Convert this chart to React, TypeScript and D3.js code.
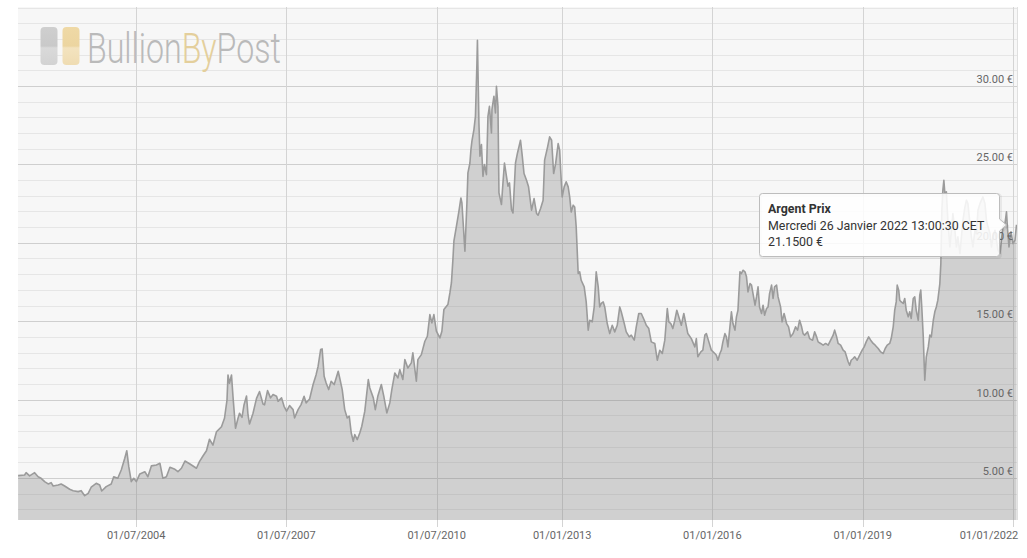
import React from "react";
import * as d3 from "d3";

// Silver price (EUR / oz). Dates as decimal years.
const sampleYears = [
  2002.14, 2002.27, 2002.30, 2002.37, 2002.47, 2002.54, 2002.60, 2002.67, 2002.74, 2002.80, 2002.84, 2002.94,
  2003.00, 2003.07, 2003.17, 2003.24, 2003.34, 2003.40, 2003.47, 2003.54, 2003.60, 2003.70, 2003.77, 2003.81, 2003.90,
  2004.00, 2004.05, 2004.13, 2004.20, 2004.27, 2004.31, 2004.35, 2004.40, 2004.45, 2004.50, 2004.57, 2004.67, 2004.73, 2004.80, 2004.90, 2004.97,
  2005.03, 2005.10, 2005.17, 2005.27, 2005.33, 2005.40, 2005.47, 2005.57, 2005.70, 2005.76, 2005.83, 2005.90, 2005.96,
  2006.03, 2006.10, 2006.20, 2006.26, 2006.31, 2006.33, 2006.36, 2006.40, 2006.43, 2006.48, 2006.53, 2006.56, 2006.61, 2006.65, 2006.70, 2006.73, 2006.76, 2006.83, 2006.90, 2006.96,
  2007.03, 2007.06, 2007.12, 2007.18, 2007.23, 2007.30, 2007.33, 2007.40, 2007.45, 2007.50, 2007.56, 2007.63, 2007.66, 2007.73, 2007.79, 2007.85, 2007.89, 2007.96,
  2008.03, 2008.09, 2008.13, 2008.18, 2008.21, 2008.25, 2008.29, 2008.34, 2008.39, 2008.45, 2008.49, 2008.53, 2008.56, 2008.61, 2008.66, 2008.71, 2008.75, 2008.79, 2008.83, 2008.86, 2008.91, 2008.96,
  2009.00, 2009.06, 2009.13, 2009.16, 2009.23, 2009.27, 2009.32, 2009.39, 2009.44, 2009.50, 2009.56, 2009.60, 2009.66, 2009.72, 2009.76, 2009.82, 2009.86, 2009.92, 2009.99,
  2010.02, 2010.09, 2010.12, 2010.19, 2010.26, 2010.31, 2010.36, 2010.40, 2010.44, 2010.49, 2010.56, 2010.60, 2010.64, 2010.72, 2010.76, 2010.79, 2010.82, 2010.84, 2010.89, 2010.94, 2010.98,
  2011.00, 2011.06, 2011.10, 2011.12, 2011.16, 2011.18, 2011.20, 2011.24, 2011.27, 2011.30, 2011.31, 2011.34, 2011.36, 2011.39, 2011.42, 2011.45, 2011.49, 2011.52, 2011.55, 2011.59, 2011.60, 2011.64, 2011.67, 2011.69, 2011.72, 2011.74, 2011.79, 2011.82, 2011.85, 2011.89, 2011.92, 2011.95, 2011.99,
  2012.02, 2012.07, 2012.11, 2012.17, 2012.20, 2012.24, 2012.29, 2012.33, 2012.39, 2012.44, 2012.49, 2012.52, 2012.57, 2012.62, 2012.65, 2012.71, 2012.75, 2012.79, 2012.83, 2012.87, 2012.92, 2012.95, 2012.97,
  2013.00, 2013.04, 2013.08, 2013.12, 2013.15, 2013.18, 2013.22, 2013.25, 2013.28, 2013.32, 2013.35, 2013.38, 2013.44, 2013.48, 2013.52, 2013.55, 2013.60, 2013.64, 2013.68, 2013.72, 2013.75, 2013.78, 2013.82, 2013.85, 2013.90, 2013.95,
  2014.00, 2014.05, 2014.10, 2014.15, 2014.18, 2014.24, 2014.28, 2014.34, 2014.38, 2014.44, 2014.48, 2014.53, 2014.58, 2014.64, 2014.68, 2014.73, 2014.78, 2014.85, 2014.90, 2014.95,
  2015.00, 2015.05, 2015.10, 2015.13, 2015.17, 2015.21, 2015.25, 2015.29, 2015.35, 2015.38, 2015.43, 2015.47, 2015.51, 2015.58, 2015.65, 2015.68, 2015.71, 2015.77, 2015.81, 2015.85, 2015.88, 2015.93, 2015.98,
  2016.05, 2016.08, 2016.11, 2016.15, 2016.18, 2016.21, 2016.25, 2016.28, 2016.31, 2016.35, 2016.38, 2016.41, 2016.45, 2016.48, 2016.51, 2016.55, 2016.58, 2016.61, 2016.65, 2016.68, 2016.71, 2016.75, 2016.78, 2016.81, 2016.85, 2016.88, 2016.91, 2016.94, 2016.98,
  2017.01, 2017.04, 2017.08, 2017.11, 2017.14, 2017.18, 2017.21, 2017.24, 2017.28, 2017.31, 2017.36, 2017.39, 2017.43, 2017.48, 2017.52, 2017.56, 2017.61, 2017.66, 2017.70, 2017.74, 2017.78, 2017.81, 2017.84, 2017.90, 2017.94,
  2018.00, 2018.04, 2018.08, 2018.11, 2018.16, 2018.21, 2018.26, 2018.31, 2018.36, 2018.41, 2018.44, 2018.48, 2018.51, 2018.56, 2018.61, 2018.65, 2018.71, 2018.74, 2018.77, 2018.81, 2018.84, 2018.89, 2018.94, 2018.99,
  2019.03, 2019.07, 2019.12, 2019.16, 2019.21, 2019.25, 2019.31, 2019.36, 2019.41, 2019.45, 2019.49, 2019.54, 2019.57, 2019.61, 2019.64, 2019.67, 2019.69, 2019.72, 2019.74, 2019.77, 2019.81, 2019.84, 2019.87, 2019.91, 2019.94, 2019.97,
  2020.01, 2020.04, 2020.07, 2020.11, 2020.14, 2020.16, 2020.18, 2020.21, 2020.23, 2020.24, 2020.27, 2020.31, 2020.34, 2020.37, 2020.41, 2020.44, 2020.47, 2020.50, 2020.54, 2020.56, 2020.57, 2020.58, 2020.60, 2020.62, 2020.64, 2020.67, 2020.70, 2020.74, 2020.77, 2020.80, 2020.84, 2020.87, 2020.90, 2020.94, 2020.97,
  2021.00, 2021.04, 2021.07, 2021.10, 2021.14, 2021.17, 2021.20, 2021.24, 2021.27, 2021.30, 2021.34, 2021.37, 2021.40, 2021.44, 2021.47, 2021.50, 2021.54, 2021.57, 2021.60, 2021.64, 2021.70, 2021.74, 2021.77, 2021.80, 2021.84, 2021.87, 2021.89, 2021.92, 2021.96,
  2022.00, 2022.04, 2022.07,
];

const silverEur = [
  5.15, 5.19, 5.34, 5.13, 5.34, 5.08, 4.98, 4.77, 4.62, 4.70, 4.49, 4.55,
  4.62, 4.49, 4.28, 4.19, 4.13, 4.19, 3.87, 4.02, 4.41, 4.66, 4.55, 4.17, 4.45,
  4.62, 5.08, 4.98, 5.51, 6.26, 6.74, 5.72, 4.77, 4.98, 4.77, 5.26, 5.40, 5.08, 5.77, 5.83, 5.94,
  4.98, 5.08, 5.68, 5.55, 5.40, 5.62, 6.08, 5.89, 5.62, 6.04, 6.40, 6.74, 7.47,
  7.10, 7.95, 8.27, 8.81, 9.97, 11.57, 11.04, 11.57, 10.19, 8.17, 8.81, 9.13, 8.87, 9.66, 10.23, 9.02, 8.44, 9.13, 10.08, 10.51,
  9.72, 9.66, 10.57, 10.11, 10.32, 10.21, 9.89, 10.11, 9.57, 9.26, 9.62, 9.36, 8.83, 9.36, 9.68, 10.21, 9.79, 10.04,
  10.96, 11.59, 12.13, 13.19, 13.23, 11.49, 11.06, 10.64, 11.17, 10.96, 11.38, 11.81, 11.38, 10.64, 9.36, 8.83, 8.94, 7.87, 7.34, 7.77, 7.45, 7.87,
  8.30, 9.26, 11.28, 10.74, 10.11, 9.36, 10.21, 10.96, 10.21, 9.15, 9.79, 10.64, 11.70, 11.38, 11.91, 11.28, 12.55, 12.02, 12.34,
  12.98, 11.17, 12.55, 12.87, 13.72, 14.04, 15.42, 14.89, 15.42, 14.36, 13.93, 14.36, 15.74, 16.06, 16.80, 17.44, 18.93, 20.10, 21.05, 22.01, 22.86,
  22.54, 19.46, 22.54, 24.46, 25.09, 25.94, 26.48, 27.22, 28.07, 31.47, 32.92, 27.64, 25.52, 26.26, 24.24, 24.99, 24.35, 28.07, 28.71, 27.01, 28.49, 29.35, 28.28, 29.98, 28.71, 23.18, 22.44, 23.82, 25.09, 24.24, 23.61, 23.82, 22.12,
  21.90, 25.09, 25.73, 26.54, 25.69, 24.42, 23.99, 23.57, 22.08, 22.82, 21.87, 21.76, 22.19, 22.72, 25.27, 26.12, 26.76, 26.54, 24.42, 25.06, 26.33, 25.91, 24.63,
  22.93, 23.57, 23.89, 23.57, 22.93, 21.97, 22.40, 22.29, 21.02, 18.04, 18.15, 17.61, 17.19, 16.23, 14.43, 15.06, 14.96, 15.91, 18.15, 17.19, 15.91, 16.13, 16.23, 15.91, 14.85, 14.21,
  14.74, 14.32, 14.74, 15.91, 15.60, 14.85, 14.32, 14.00, 14.11, 13.79, 14.64, 15.49, 15.49, 15.06, 14.74, 14.53, 13.68, 13.58, 12.51, 13.15,
  12.94, 13.79, 15.81, 14.96, 14.85, 14.53, 15.06, 15.70, 15.06, 14.74, 15.49, 14.85, 14.21, 13.89, 13.36, 13.89, 12.73, 13.04, 13.15, 14.11, 14.21, 13.68, 13.15,
  12.94, 12.83, 12.51, 12.94, 13.15, 13.68, 14.21, 14.00, 13.36, 14.64, 15.60, 14.85, 14.43, 15.28, 15.70, 18.15, 18.04, 18.25, 18.15, 17.83, 16.87, 17.40, 17.30, 16.76, 16.02, 16.55, 17.19, 15.91, 15.49,
  16.02, 15.38, 15.81, 15.91, 16.76, 17.30, 16.45, 17.19, 17.30, 16.55, 15.91, 14.96, 15.49, 14.85, 14.64, 14.00, 14.21, 14.64, 14.43, 15.06, 14.64, 14.21, 14.11, 14.32, 13.89,
  13.79, 14.32, 14.00, 13.68, 13.58, 13.47, 13.58, 13.47, 13.79, 14.11, 14.43, 14.00, 13.58, 13.47, 13.15, 13.04, 12.41, 12.19, 12.51, 12.62, 12.73, 12.51, 12.83, 13.15,
  13.36, 13.68, 14.00, 13.79, 13.58, 13.47, 13.26, 13.04, 12.94, 13.26, 13.47, 13.58, 13.89, 14.64, 15.70, 16.23, 17.30, 16.98, 16.34, 16.23, 16.13, 16.45, 15.70, 15.28, 15.60, 15.17,
  16.45, 16.55, 15.70, 15.06, 16.66, 16.98, 15.91, 14.00, 12.09, 11.24, 12.73, 13.36, 14.11, 14.00, 15.06, 15.60, 15.91, 16.34, 17.40, 18.68, 20.38, 22.08, 23.35, 23.99, 23.14, 23.25, 21.44, 19.74, 20.80, 21.87, 20.80, 19.74, 20.38, 19.32, 20.38,
  21.44, 22.29, 22.72, 22.50, 21.23, 20.38, 19.74, 20.80, 20.59, 22.08, 22.50, 22.72, 22.93, 22.50, 21.44, 21.02, 20.59, 19.74, 20.38, 20.80, 19.53, 19.32, 20.17, 21.02, 21.23, 21.97, 20.91, 19.74, 20.70,
  19.95, 20.17, 21.15,
];

const xTickDates = ["2004-07-01", "2007-07-01", "2010-07-01", "2013-01-01", "2016-01-01", "2019-01-01", "2022-01-01"];
const yMajorTicks = [5, 10, 15, 20, 25, 30];
const yMinorStep = 1;
const xDomainYears = [2002.138, 2022.08];
const yDomain = [2.32, 35.04];

const seriesName = "Argent Prix";
const tooltipDate = "Mercredi 26 Janvier 2022 13:00:30 CET";
const tooltipValue = "21.1500 €";

function decYearToDate(y: number): Date {
  const yr = Math.floor(y);
  const start = Date.UTC(yr, 0, 1);
  const end = Date.UTC(yr + 1, 0, 1);
  return new Date(start + (y - yr) * (end - start));
}

export default function App() {
  const W = 1027, H = 558;
  const left = 18, right = 1017, top = 7, bottom = 520;

  const data = sampleYears.map((yr, i) => ({ date: decYearToDate(yr), v: silverEur[i] }));

  const x = d3.scaleUtc().domain([decYearToDate(xDomainYears[0]), decYearToDate(xDomainYears[1])]).range([left, right]);
  const y = d3.scaleLinear().domain(yDomain).range([bottom, top]);

  const area = d3.area<{ date: Date; v: number }>()
    .x(d => x(d.date)).y0(bottom).y1(d => y(d.v));
  const line = d3.line<{ date: Date; v: number }>()
    .x(d => x(d.date)).y(d => y(d.v));

  const minorTicks = d3.range(Math.ceil(yDomain[0]), Math.floor(yDomain[1]) + 1, yMinorStep)
    .filter(t => !yMajorTicks.includes(t));
  const fmt = d3.utcFormat("%d/%m/%Y");
  const xTicks = xTickDates.map(s => new Date(s + "T00:00:00Z"));
  const labelHalf = 28;

  const font = "Roboto, 'Open Sans', sans-serif";

  // tooltip geometry
  const tt = { x0: 759.5, y0: 193.5, x1: 999.5, y1: 256.5, r: 3 };
  const arrowY = 225;
  const ttPath = `M${tt.x0 + tt.r},${tt.y0} L${tt.x1 - tt.r},${tt.y0} Q${tt.x1},${tt.y0} ${tt.x1},${tt.y0 + tt.r} L${tt.x1},${arrowY - 6} L${tt.x1 + 7},${arrowY} L${tt.x1},${arrowY + 6} L${tt.x1},${tt.y1 - tt.r} Q${tt.x1},${tt.y1} ${tt.x1 - tt.r},${tt.y1} L${tt.x0 + tt.r},${tt.y1} Q${tt.x0},${tt.y1} ${tt.x0},${tt.y1 - tt.r} L${tt.x0},${tt.y0 + tt.r} Q${tt.x0},${tt.y0} ${tt.x0 + tt.r},${tt.y0} Z`;

  return (
    <svg width={W} height={H} style={{ position: "absolute", left: 0, top: 0, background: "#fff" }} fontFamily={font}>
      <defs>
        <clipPath id="plotClip">
          <rect x={left} y={top} width={right - left} height={bottom - top} />
        </clipPath>
        <linearGradient id="grayBar" x1="0" y1="0" x2="0" y2="1">
          <stop offset="0" stopColor="#cfcfcf" />
          <stop offset="0.5" stopColor="#c9c9c9" />
          <stop offset="0.55" stopColor="#dadada" />
          <stop offset="1" stopColor="#d2d2d2" />
        </linearGradient>
        <linearGradient id="goldBar" x1="0" y1="0" x2="0" y2="1">
          <stop offset="0" stopColor="#efd9a6" />
          <stop offset="0.5" stopColor="#ecd5a0" />
          <stop offset="0.55" stopColor="#f3e3bf" />
          <stop offset="1" stopColor="#efdcb2" />
        </linearGradient>
      </defs>

      {/* plot background */}
      <rect x={left} y={top} width={right - left} height={bottom - top} fill="#f7f7f7" />

      {/* minor horizontal grid */}
      {minorTicks.map(t => (
        <line key={"mi" + t} x1={left} x2={right} y1={Math.round(y(t)) + 0.5} y2={Math.round(y(t)) + 0.5} stroke="#e6e6e6" strokeWidth={1} />
      ))}
      {/* major horizontal grid */}
      {yMajorTicks.map(t => (
        <line key={"ma" + t} x1={left} x2={right} y1={Math.round(y(t)) + 0.5} y2={Math.round(y(t)) + 0.5} stroke="#cfcfcf" strokeWidth={1} />
      ))}
      {/* vertical grid + ticks */}
      {xTicks.map((d, i) => (
        <line key={"vx" + i} x1={Math.round(x(d)) + 0.5} x2={Math.round(x(d)) + 0.5} y1={top} y2={bottom + 7} stroke="#d4d4d4" strokeWidth={1} />
      ))}
      <line x1={right + 0.5} x2={right + 0.5} y1={top} y2={bottom} stroke="#e0e0e0" />

      {/* logo watermark */}
      <g>
        <rect x={40.5} y={27} width={17} height={38} rx={4} fill="url(#grayBar)" />
        <rect x={62.5} y={27} width={17} height={38} rx={4} fill="url(#goldBar)" />
        <g transform="translate(87,63) scale(0.765,1)">
          <text x={0} y={0} fontSize={42} fill="#bababa" fontWeight={300}>
            Bullion<tspan fill="#e4cf9c">By</tspan>Post
          </text>
        </g>
      </g>

      {/* series */}
      <g clipPath="url(#plotClip)">
        <path d={area(data) || ""} fill="rgba(120,120,120,0.3)" />
        <path d={line(data) || ""} fill="none" stroke="#9b9b9b" strokeWidth={1.6} strokeLinejoin="round" />
      </g>

      {/* y labels */}
      {yMajorTicks.map(t => (
        <text key={"yl" + t} x={1013} y={y(t) - 3} textAnchor="end" fontSize={11} fill="#666">
          {t.toFixed(2) + " €"}
        </text>
      ))}

      {/* x labels (justified inside the chart when they would overflow) */}
      {xTicks.map((d, i) => {
        const cx = Math.min(x(d), right - labelHalf);
        return (
          <text key={"xl" + i} x={cx} y={539} textAnchor="middle" fontSize={11} fill="#666">
            {fmt(d)}
          </text>
        );
      })}

      {/* tooltip */}
      <g>
        <path d={ttPath} transform="translate(1,1)" fill="none" stroke="rgba(0,0,0,0.06)" strokeWidth={3} />
        <path d={ttPath} fill="rgba(255,255,255,0.86)" stroke="#bdbdbd" strokeWidth={1} />
        <text x={768} y={213} fontSize={12.4} fill="#333" fontWeight="bold">{seriesName}</text>
        <text x={768} y={230} fontSize={12.4} fill="#333">{tooltipDate}</text>
        <text x={768} y={246} fontSize={12.4} fill="#333">{tooltipValue}</text>
      </g>
    </svg>
  );
}
